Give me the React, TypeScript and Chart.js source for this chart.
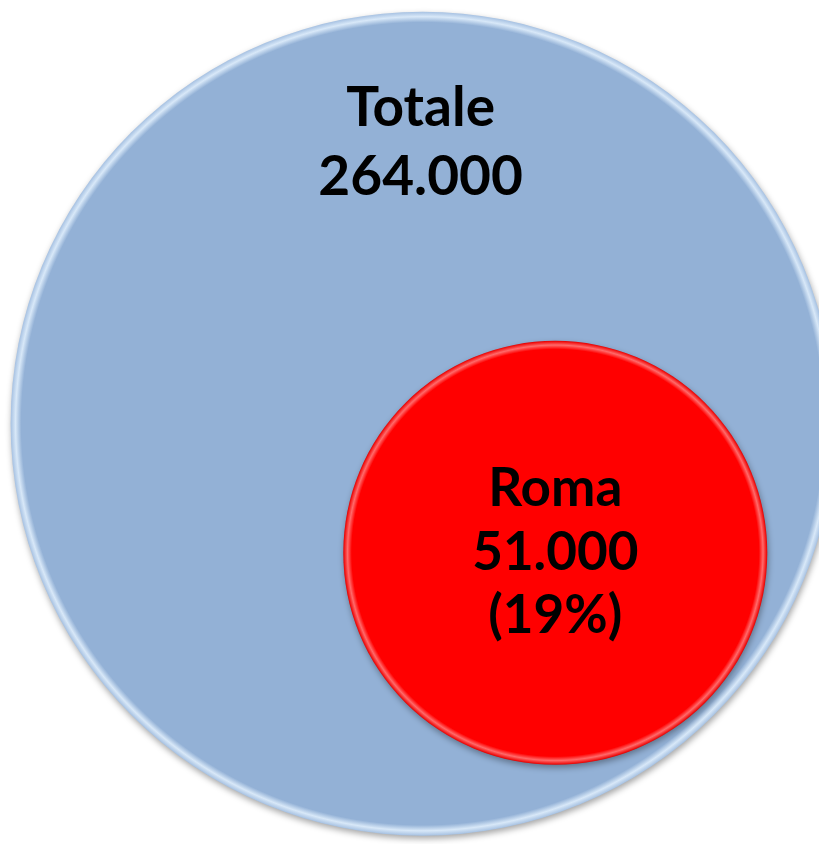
import React, { useEffect, useRef } from "react";
import { Chart, registerables } from "chart.js";

Chart.register(...registerables);

// ---- data ----
const categories = ["Totale", "Roma"];
const values = [264000, 51000];
const valueLabels = ["264.000", "51.000"];
const shareLabels = ["", "(19%)"];
// bubble placement (abstract 0-100 units) and bubble sizes
const bubbleX = [51.6, 67.8];
const bubbleY = [50.2, 65.5];
const bubbleR = [412, 212];

const FILLS = ["#93B1D6", "#FF0000"];
const FONT = "Lato, 'Open Sans', sans-serif";

function radialFill(context: any) {
  const i = context.dataIndex;
  const chart = context.chart;
  if (i === undefined || i === null) return FILLS[0];
  const xs = chart.scales && chart.scales.x;
  const ys = chart.scales && chart.scales.y;
  if (!xs || !ys) return FILLS[i];
  const cx = xs.getPixelForValue(bubbleX[i]);
  const cy = ys.getPixelForValue(bubbleY[i]);
  const r = bubbleR[i];
  if (!isFinite(cx) || !isFinite(cy) || !(xs.width > 0) || !(ys.height > 0)) return FILLS[i];
  const g = chart.ctx.createRadialGradient(cx, cy, 0, cx, cy, r);
  if (i === 0) {
    g.addColorStop(0, "#93B1D6");
    g.addColorStop(0.974, "#93B1D6");
    g.addColorStop(0.988, "#D8E8F8");
    g.addColorStop(1, "#A6C1E2");
  } else {
    g.addColorStop(0, "#FF0000");
    g.addColorStop(0.96, "#FF0000");
    g.addColorStop(0.98, "#FF6A6A");
    g.addColorStop(0.993, "#F52020");
    g.addColorStop(1, "#E00000");
  }
  return g;
}

const shadowPlugin = {
  id: "bubbleShadow",
  beforeDatasetsDraw(chart: any) {
    const ctx = chart.ctx;
    ctx.save();
    ctx.shadowColor = "rgba(0,0,0,0.35)";
    ctx.shadowBlur = 6;
    ctx.shadowOffsetX = 1;
    ctx.shadowOffsetY = 3;
  },
  afterDatasetsDraw(chart: any) {
    chart.ctx.restore();
  },
};

const labelPlugin = {
  id: "bubbleLabels",
  afterDraw(chart: any) {
    const ctx = chart.ctx;
    const meta = chart.getDatasetMeta(0);
    ctx.save();
    ctx.fillStyle = "#000000";
    ctx.textAlign = "center";
    ctx.textBaseline = "alphabetic";
    meta.data.forEach((el: any, i: number) => {
      const r = bubbleR[i];
      const lines = [categories[i], valueLabels[i], shareLabels[i]].filter((s) => s);
      if (i === 0) {
        ctx.font = `bold 55px ${FONT}`;
        const first = el.y - r + 114;
        lines.forEach((t, k) => ctx.fillText(t, el.x - 2, first + k * 69));
      } else {
        ctx.font = `bold 53px ${FONT}`;
        const lh = 63.5;
        const mid = el.y + 17;
        lines.forEach((t, k) => ctx.fillText(t, el.x, mid + (k - (lines.length - 1) / 2) * lh));
      }
    });
    ctx.restore();
  },
};

export default function App() {
  const ref = useRef<HTMLCanvasElement>(null);
  useEffect(() => {
    if (!ref.current) return;
    const chart = new Chart(ref.current, {
      type: "bubble",
      data: {
        datasets: [
          {
            label: "Abitanti",
            data: categories.map((c, i) => ({ x: bubbleX[i], y: bubbleY[i], r: bubbleR[i], v: values[i] })),
            backgroundColor: radialFill,
            borderWidth: 0,
            hoverRadius: 0,
            clip: false,
          } as any,
        ],
      },
      options: {
        animation: false,
        responsive: false,
        events: [],
        layout: { padding: 0, autoPadding: false },
        plugins: { legend: { display: false }, tooltip: { enabled: false } },
        scales: {
          x: { type: "linear", min: 0, max: 100, display: false },
          y: { type: "linear", min: 0, max: 100, reverse: true, display: false },
        },
      },
      plugins: [shadowPlugin, labelPlugin],
    });
    return () => chart.destroy();
  }, []);
  return (
    <div style={{ position: "fixed", left: 0, top: 0, width: 819, height: 844, background: "#ffffff" }}>
      <canvas ref={ref} width={819} height={844} style={{ display: "block" }} />
    </div>
  );
}
